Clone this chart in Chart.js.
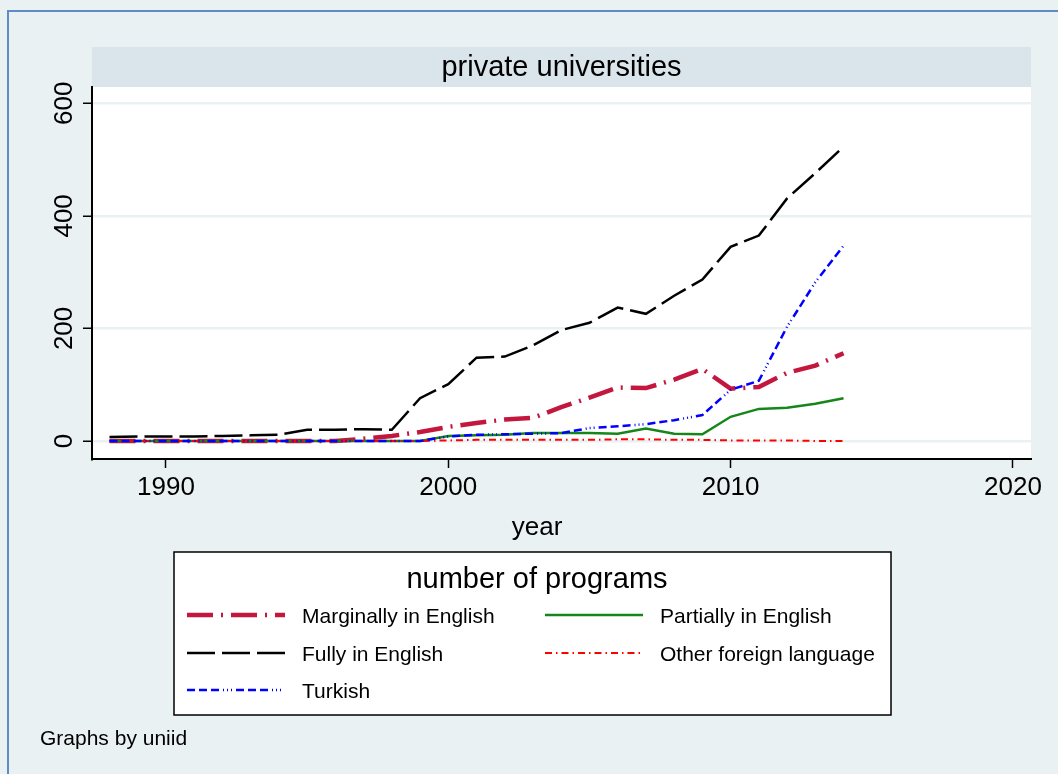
<!DOCTYPE html>
<html>
<head>
<meta charset="utf-8">
<script src="https://cdn.jsdelivr.net/npm/chart.js@4/dist/chart.umd.min.js"></script>
<style>
  html, body { margin: 0; padding: 0; background: #eaf1f3; }
  #wrap { width: 1058px; height: 774px; }
</style>
</head>
<body>
<div id="wrap"><canvas id="chart" width="1058" height="774"></canvas></div>
<script>
// ====== Data ======
const years = [1988, 1989, 1990, 1991, 1992, 1993, 1994, 1995, 1996, 1997, 1998, 1999, 2000,
  2001, 2002, 2003, 2004, 2005, 2006, 2007, 2008, 2009, 2010, 2011, 2012, 2013, 2014];

const marginally = [0, 0, 0, 0, 0, 0, 0, 0, 0, 4, 9, 16, 25,
  32, 38, 41, 60, 77, 95, 94, 109, 128, 93, 96, 121, 134, 156];
const partially = [0, 0, 0, 0, 0, 0, 0, 0, 0, 0, 0, 0, 9,
  10, 11, 14, 14, 14, 13, 22, 13, 12, 43, 57, 59, 66, 76];
const fully = [7, 8, 8, 8, 9, 10, 11, 20, 20, 21, 20, 76, 101,
  148, 150, 170, 197, 210, 237, 226, 258, 287, 345, 365, 431, 476, 523];
const otherForeign = [0, 0, 0, 0, 0, 0, 0, 0, 0, 0, 0, 0, 1,
  2, 2, 2, 2, 2, 3, 3, 2, 2, 1, 1, 1, 0, 0];
const turkish = [0, 0, 0, 0, 0, 0, 0, 0, 0, 0, 0, 0, 8,
  11, 12, 13, 14, 23, 26, 30, 37, 46, 91, 107, 203, 282, 347];

const seriesNames = ["Marginally in English", "Partially in English", "Fully in English",
  "Other foreign language", "Turkish"];
const xTicks = [1990, 2000, 2010, 2020];
const yTicks = [0, 200, 400, 600];

const FONT = '"Liberation Sans", Arial, Helvetica, sans-serif';

const series = (label, data, color, width, dash, order) => ({
  label,
  data: years.map((y, i) => ({ x: y, y: data[i] })),
  borderColor: color,
  backgroundColor: color,
  borderWidth: width,
  borderDash: dash,
  borderCapStyle: "butt",
  pointRadius: 0,
  tension: 0,
  fill: false,
  order,
});

// ====== Frame, title band, legend and notes ======
const decor = {
  id: "decor",
  beforeDraw(chart) {
    const { ctx, chartArea: a, width, height } = chart;
    ctx.save();
    ctx.fillStyle = "#eaf1f3";
    ctx.fillRect(0, 0, width, height);
    ctx.strokeStyle = "#5d8cc6";
    ctx.lineWidth = 2;
    ctx.strokeRect(8, 11, width + 20, height + 20);
    ctx.fillStyle = "#ffffff";
    ctx.fillRect(a.left, a.top, a.right - a.left, a.bottom - a.top);
    ctx.fillStyle = "#d9e5eb";
    ctx.fillRect(a.left, a.top - 40, a.right - a.left, 40);
    ctx.restore();
  },
  afterDraw(chart) {
    const { ctx, chartArea: a } = chart;
    const ys = chart.scales.y;
    ctx.save();
    ctx.fillStyle = "#000";

    // panel title
    ctx.font = `29px ${FONT}`;
    ctx.textAlign = "center";
    ctx.textBaseline = "alphabetic";
    ctx.fillText("private universities", (a.left + a.right) / 2, 76);

    // rotated y tick labels
    ctx.font = `26px ${FONT}`;
    ys.ticks.forEach((t) => {
      const py = ys.getPixelForValue(t.value);
      ctx.save();
      ctx.translate(72, py);
      ctx.rotate(-Math.PI / 2);
      ctx.fillText(String(t.value), 0, 0);
      ctx.restore();
    });

    // x axis title
    ctx.font = `26px ${FONT}`;
    ctx.fillText("year", 537, 535);

    // legend
    const bx = 174, by = 552, bw = 717, bh = 163;
    ctx.fillStyle = "#fff";
    ctx.fillRect(bx, by, bw, bh);
    ctx.strokeStyle = "#000";
    ctx.lineWidth = 1.5;
    ctx.strokeRect(bx, by, bw, bh);
    ctx.fillStyle = "#000";
    ctx.font = `29px ${FONT}`;
    ctx.fillText("number of programs", 537, 588);

    const slots = [[187, 615], [545, 615], [187, 653], [545, 653], [187, 690]];
    ctx.font = `21px ${FONT}`;
    ctx.textAlign = "left";
    chart.data.datasets.forEach((ds, i) => {
      const [lx, ly] = slots[i];
      ctx.save();
      ctx.strokeStyle = ds.borderColor;
      ctx.lineWidth = ds.borderWidth;
      ctx.setLineDash(ds.borderDash || []);
      ctx.beginPath();
      ctx.moveTo(lx, ly);
      ctx.lineTo(lx + 98, ly);
      ctx.stroke();
      ctx.restore();
      ctx.fillText(ds.label, lx + 115, ly + 8);
    });

    // note
    ctx.font = `21px ${FONT}`;
    ctx.fillText("Graphs by uniid", 40, 745);
    ctx.restore();
  },
};

// ====== Chart ======
new Chart(document.getElementById("chart"), {
  type: "line",
  data: {
    datasets: [
      series(seriesNames[0], marginally, "#c4173d", 4.5, [26, 8, 2, 8], 5),
      series(seriesNames[1], partially, "#16851a", 2.5, [], 4),
      series(seriesNames[2], fully, "#000000", 2.5, [28, 7], 3),
      series(seriesNames[3], otherForeign, "#ff0000", 2, [7, 4, 1.5, 4], 2),
      series(seriesNames[4], turkish, "#0000ff", 2.5, [8, 4, 8, 4, 8, 4, 1, 3, 1, 3, 1, 4], 1),
    ],
  },
  options: {
    responsive: false,
    animation: false,
    events: [],
    layout: { padding: { top: 87, right: 27, bottom: 255, left: 0 } },
    plugins: { legend: { display: false }, title: { display: false }, tooltip: { enabled: false } },
    scales: {
      x: {
        type: "linear",
        min: 1987.38,
        max: 2020.64,
        afterBuildTicks: (s) => { s.ticks = xTicks.map((v) => ({ value: v })); },
        afterFit: (s) => { s.height = 60; },
        ticks: {
          color: "#000",
          font: { family: FONT, size: 26 },
          padding: 4,
          maxRotation: 0,
          callback: (v) => String(v),
        },
        grid: { drawOnChartArea: false, tickColor: "#000", tickLength: 9, tickWidth: 1.5 },
        border: { display: true, color: "#000", width: 2 },
      },
      y: {
        type: "linear",
        min: -32,
        max: 629,
        afterBuildTicks: (s) => { s.ticks = yTicks.map((v) => ({ value: v })); },
        afterFit: (s) => { s.width = 92; },
        ticks: { display: false },
        grid: { color: "#e9f1f3", lineWidth: 2.5, tickColor: "#000", tickLength: 9, tickWidth: 1.5 },
        border: { display: true, color: "#000", width: 2 },
      },
    },
  },
  plugins: [decor],
});
</script>
</body>
</html>
